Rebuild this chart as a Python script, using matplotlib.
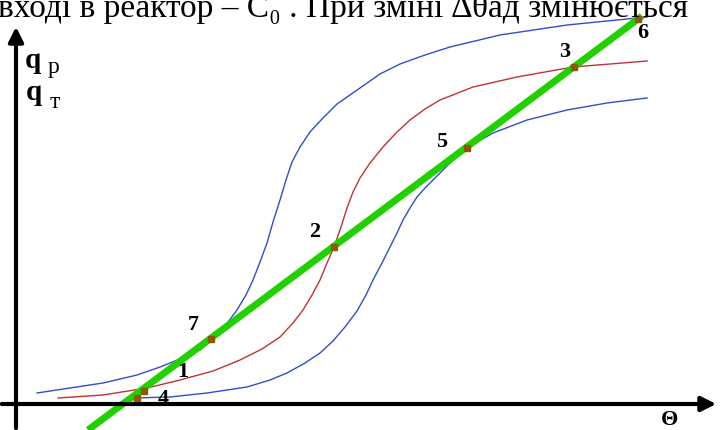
import numpy as np
import matplotlib.pyplot as plt

# heat generation curves q_p (three values of the adiabatic rise) and heat removal line q_t
theta_hi = [0.21, 0.54, 0.87, 1.21, 1.44, 1.64, 1.84, 1.96, 2.09, 2.21, 2.30, 2.37,
            2.44, 2.51, 2.57, 2.64, 2.70, 2.76, 2.84, 2.94, 3.06, 3.21, 3.44, 3.64,
            3.84, 4.09, 4.34, 4.84, 5.51, 6.01, 6.31]
q_hi = [0.11, 0.16, 0.21, 0.29, 0.37, 0.45, 0.54, 0.64, 0.78, 0.94, 1.09, 1.24,
        1.42, 1.61, 1.82, 2.04, 2.24, 2.42, 2.57, 2.72, 2.85, 3.00, 3.16, 3.30,
        3.40, 3.49, 3.57, 3.69, 3.79, 3.84, 3.87]

theta_mid = [0.42, 0.87, 1.31, 1.64, 1.97, 2.24, 2.46, 2.64, 2.77, 2.87, 2.96, 3.04,
             3.11, 3.18, 3.25, 3.31, 3.37, 3.44, 3.54, 3.67, 3.80, 3.94, 4.09, 4.24,
             4.57, 5.01, 5.57, 6.31]
q_mid = [0.06, 0.09, 0.16, 0.24, 0.33, 0.44, 0.55, 0.67, 0.81, 0.94, 1.09, 1.24,
         1.41, 1.57, 1.77, 1.96, 2.12, 2.26, 2.41, 2.57, 2.71, 2.84, 2.95, 3.04,
         3.17, 3.27, 3.37, 3.43]

theta_lo = [1.17, 1.54, 1.91, 2.31, 2.54, 2.71, 2.89, 3.04, 3.17, 3.29, 3.41, 3.50,
            3.57, 3.66, 3.74, 3.81, 3.87, 3.94, 4.01, 4.09, 4.17, 4.37, 4.51, 4.77,
            5.11, 5.51, 5.91, 6.31]
q_lo = [0.06, 0.07, 0.11, 0.17, 0.24, 0.31, 0.41, 0.51, 0.63, 0.77, 0.93, 1.09,
        1.24, 1.41, 1.57, 1.71, 1.84, 1.96, 2.07, 2.16, 2.24, 2.44, 2.56, 2.71,
        2.84, 2.94, 3.01, 3.06]

theta_line = [0.72, 6.26]
q_line = [-0.26, 3.88]

# steady states (intersections)
pt_names = ['4', '1', '7', '2', '5', '3', '6']
pt_theta = [1.21, 1.28, 1.95, 3.18, 4.51, 5.58, 6.22]
pt_q = [0.06, 0.13, 0.65, 1.57, 2.56, 3.37, 3.85]
pt_offs = [(26, -1), (39, 19), (-18, 14), (-19, 15), (-25, 6), (-9, 15), (5, -14)]

serif = ['Liberation Serif', 'DejaVu Serif']

fig = plt.figure(figsize=(7.2, 4.3), dpi=100)
ax = fig.add_axes([0, 0, 1, 1])
ax.set_xlim(-0.16, 7.04)
ax.set_ylim(-0.26, 4.04)
ax.axis('off')

blue = '#2e4fc9'
ax.plot(theta_hi, q_hi, color=blue, lw=1.0)
ax.plot(theta_mid, q_mid, color='#c23232', lw=1.0)
ax.plot(theta_lo, q_lo, color=blue, lw=1.0)
ax.plot(theta_line, q_line, color='#22d000', lw=5, solid_capstyle='butt', zorder=3)
ax.plot(pt_theta, pt_q, 's', color='#8b5a00', ms=5, zorder=4)

for name, x, y, off in zip(pt_names, pt_theta, pt_q, pt_offs):
    ax.annotate(name, (x, y), xytext=off, textcoords='offset pixels',
                ha='center', va='center', fontsize=16, fontweight='bold',
                family=serif)

# axes with arrows
ax.annotate('', xy=(7.03, 0), xytext=(-0.17, 0),
            arrowprops=dict(arrowstyle='-|>', lw=3, color='black', mutation_scale=22))
ax.annotate('', xy=(0, 3.80), xytext=(0, -0.27),
            arrowprops=dict(arrowstyle='-|>', lw=3, color='black', mutation_scale=22))

ax.text(6.54, -0.16, 'Θ', ha='center', va='center', fontsize=16,
        fontweight='bold', family=serif)
ax.text(0.17, 3.43, 'q', ha='center', va='center', fontsize=21,
        fontweight='bold', family=serif)
ax.text(0.38, 3.36, 'p', ha='center', va='center', fontsize=17, family=serif)
ax.text(0.18, 3.11, 'q', ha='center', va='center', fontsize=21,
        fontweight='bold', family=serif)
ax.text(0.39, 3.02, 'т', ha='center', va='center', fontsize=17, family=serif)

fig.text(-0.003, 1 - 17 / 430, 'вході в реактор – C₀ . При зміні ∆θад змінюється',
         ha='left', va='baseline', fontsize=24, family=serif)

fig.savefig('out.png', dpi=100)
